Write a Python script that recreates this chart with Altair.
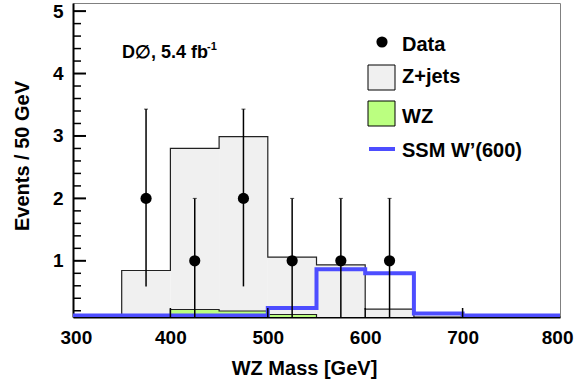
import altair as alt
import pandas as pd

# ---------------- data ----------------
bin_edges = [300, 350, 400, 450, 500, 550, 600, 650, 700, 750, 800]
zjets_total = [0, 0.845, 2.80, 2.99, 1.06, 0.936, 0.227, 0, 0, 0]
wz = [0, 0, 0.22, 0.196, 0.14, 0, 0, 0, 0, 0]
wprime = [0.125, 0.125, 0.125, 0.125, 0.244, 0.863, 0.80, 0.155, 0.125, 0.125]

data_x = [375, 425, 475, 525, 575, 625]
data_y = [2, 1, 2, 1, 1, 1]
data_lo = [0.59, 0, 0.59, 0, 0, 0]
data_hi = [3.43, 2.0, 3.43, 2.0, 2.0, 2.0]

x_ticks = [300, 400, 500, 600, 700, 800]
x_inner_ticks = [400, 500, 600, 700]
y_ticks = [1, 2, 3, 4, 5]
y_minor = [0.2, 0.4, 0.6, 0.8, 1.2, 1.4, 1.6, 1.8, 2.2, 2.4, 2.6, 2.8,
           3.2, 3.4, 3.6, 3.8, 4.2, 4.4, 4.6, 4.8]

FONT = "Liberation Sans"
GRAY = "#f0f0f0"
GREEN = "#bbff80"
BLUE = "#4d4dff"

hist = pd.DataFrame({"lo": bin_edges[:-1], "hi": bin_edges[1:],
                     "zj": zjets_total, "wz": wz, "base": [0] * 10})
steps = pd.DataFrame({"x": bin_edges,
                      "zj": zjets_total + [zjets_total[-1]],
                      "wz": wz + [wz[-1]],
                      "wp": wprime + [wprime[-1]]})
pts = pd.DataFrame({"x": data_x, "y": data_y, "lo": data_lo, "hi": data_hi})

xs = alt.Scale(domain=[300, 800], nice=False, zero=False)
ys = alt.Scale(domain=[0.1, 5.13], nice=False, zero=False)

xaxis = alt.Axis(values=x_ticks, format="d", labelFont=FONT, labelFontWeight="bold",
                 labelFontSize=19, labelColor="black", labelPadding=26,
                 labelBaseline="alphabetic", labelFlush=True, labelFlushOffset=13,
                 labelOverlap=False,
                 ticks=False, tickSize=0, grid=False, domainColor="black", domainWidth=2,
                 title="WZ Mass [GeV]", titleFont=FONT, titleFontSize=20,
                 titleFontWeight="bold", titleColor="black", titleX=231, titleY=57,
                 titleAlign="center", titleBaseline="alphabetic")
yaxis = alt.Axis(values=y_ticks, format="d", labelFont=FONT, labelFontWeight="bold",
                 labelFontSize=19, labelColor="black", labelPadding=10,
                 labelAlign="right", labelBaseline="middle", labelOverlap=False,
                 ticks=False, tickSize=0, grid=False, domainColor="black", domainWidth=2,
                 title="Events / 50 GeV", titleFont=FONT, titleFontSize=20,
                 titleFontWeight="bold", titleColor="black", titleX=-45, titleY=152.5,
                 titleAngle=270, titleAlign="center", titleBaseline="alphabetic")


def X(f):
    return alt.X(f, type="quantitative", scale=xs, axis=xaxis)


def Y(f):
    return alt.Y(f, type="quantitative", scale=ys, axis=yaxis)


zj_fill = alt.Chart(hist).mark_rect(color=GRAY, clip=True).encode(
    x=X("lo"), x2="hi", y=Y("base"), y2="zj")
wz_fill = alt.Chart(hist).mark_rect(color=GREEN, clip=True).encode(
    x=X("lo"), x2="hi", y=Y("base"), y2="wz")
zj_line = alt.Chart(steps).mark_line(interpolate="step-after", color="#222",
                                     strokeWidth=1.2, clip=True).encode(x=X("x"), y=Y("zj"))
wz_line = alt.Chart(steps).mark_line(interpolate="step-after", color="#222",
                                     strokeWidth=1.2, clip=True).encode(x=X("x"), y=Y("wz"))
wp_line = alt.Chart(steps).mark_line(interpolate="step-after", color=BLUE,
                                     strokeWidth=4, clip=True).encode(x=X("x"), y=Y("wp"))

err = alt.Chart(pts).mark_rule(color="black", strokeWidth=1.5, clip=True).encode(
    x=X("x"), y=Y("lo"), y2="hi")
caps = alt.Chart(pts).mark_tick(color="black", orient="horizontal", size=4,
                                thickness=1).encode(x=X("x"), y=Y("hi"))
dots = alt.Chart(pts).mark_point(shape="circle", filled=True, color="black",
                                 opacity=1, size=125).encode(x=X("x"), y=Y("y"))

# inward axis ticks
ymaj = alt.Chart(pd.DataFrame({"y": y_ticks})).mark_rule(color="black", strokeWidth=2).encode(
    y=Y("y"), x=alt.value(0), x2=alt.value(13))
ymin = alt.Chart(pd.DataFrame({"y": y_minor})).mark_rule(color="black", strokeWidth=1.5).encode(
    y=Y("y"), x=alt.value(0), x2=alt.value(8))
xmaj = alt.Chart(pd.DataFrame({"x": x_inner_ticks})).mark_rule(color="black", strokeWidth=1.5).encode(
    x=X("x"), y=alt.value(314), y2=alt.value(305))

one = pd.DataFrame({"a": [0]})


def label(txt, x, y, size=20, base="alphabetic"):
    return alt.Chart(one).mark_text(text=txt, font=FONT, fontWeight="bold", fontSize=size,
                                    color="black", align="left", baseline=base).encode(
        x=alt.value(x), y=alt.value(y))


leg_dot = alt.Chart(one).mark_point(shape="circle", filled=True, color="black",
                                    opacity=1, size=125).encode(x=alt.value(309), y=alt.value(39))
leg_zj = alt.Chart(one).mark_rect(fill=GRAY, stroke="black", strokeWidth=1).encode(
    x=alt.value(295), x2=alt.value(322), y=alt.value(62), y2=alt.value(87))
leg_wz = alt.Chart(one).mark_rect(fill=GREEN, stroke="black", strokeWidth=1).encode(
    x=alt.value(295), x2=alt.value(322), y=alt.value(98), y2=alt.value(123))
leg_wp = alt.Chart(one).mark_rule(color=BLUE, strokeWidth=4).encode(
    x=alt.value(296), x2=alt.value(322), y=alt.value(146))

texts = [
    label("Data", 329, 48),
    label("Z+jets", 329, 80),
    label("WZ", 329, 120),
    label("SSM W\u2019(600)", 329, 154),
    label("D\u2205, 5.4 fb", 49, 55, size=18),
    label("-1", 134, 47, size=11),
]

chart = alt.layer(
    zj_fill, wz_fill, zj_line, wz_line, wp_line, err, caps, dots,
    ymaj, ymin, xmaj, leg_dot, leg_zj, leg_wz, leg_wp, *texts
).properties(
    width=487, height=314,
    autosize=alt.AutoSizeParams(type="none"),
    padding={"left": 73, "top": 3, "right": 14, "bottom": 68},
    background="white",
).configure_view(stroke="#808080", strokeWidth=1)

chart.save("out.html", embed_options={"renderer": "svg", "actions": False})
